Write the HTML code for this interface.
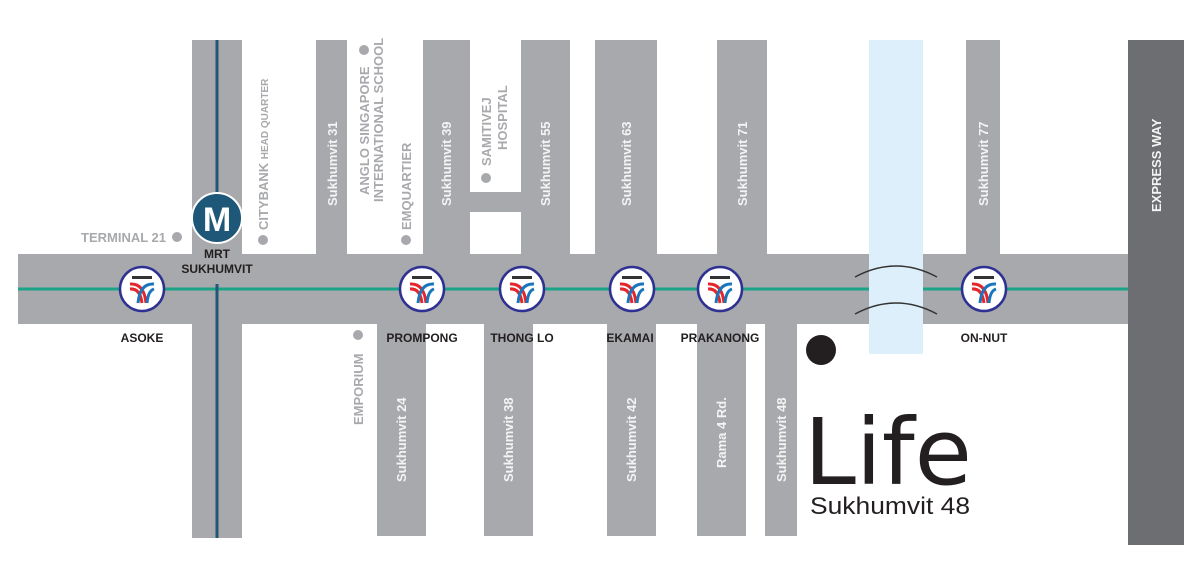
<!DOCTYPE html>
<html><head><meta charset="utf-8"><style>
html,body{margin:0;padding:0;background:#fff}
svg{display:block}
text{font-family:"Liberation Sans",sans-serif}
.rl{fill:#f4f4f4;font-size:13px;font-weight:bold}
.gl{fill:#a7a9ac;font-size:13px;font-weight:bold}
.st{fill:#231f20;font-size:12px;font-weight:bold;text-anchor:middle}
</style></head><body>
<svg width="1200" height="576" viewBox="0 0 1200 576" xmlns="http://www.w3.org/2000/svg">
<defs>
<g id="bts">
<circle r="22" fill="#fff" stroke="#2e3192" stroke-width="2.5"/>
<rect x="-10" y="-13" width="20" height="3" fill="#333"/>
<path d="M-12,-5 Q2,-6 4,14" fill="none" stroke="#e4262b" stroke-width="3"/>
<path d="M-12,0 Q-2,-1 0,14" fill="none" stroke="#e4262b" stroke-width="3"/>
<path d="M12,-5 Q-2,-6 -4,14" fill="none" stroke="#1b75bc" stroke-width="3"/>
<path d="M12,0 Q6,2 5,14" fill="none" stroke="#1b75bc" stroke-width="3"/>
</g>
</defs>
<g fill="#a7a9ac">
<rect x="18" y="254" width="1112" height="70"/>
<rect x="192" y="40" width="50" height="498"/>
<rect x="316" y="40" width="31" height="214"/>
<rect x="423" y="40" width="47" height="214"/>
<rect x="470" y="192" width="51" height="20"/>
<rect x="521" y="40" width="49" height="214"/>
<rect x="595" y="40" width="62" height="214"/>
<rect x="717" y="40" width="50" height="214"/>
<rect x="966" y="40" width="34" height="214"/>
<rect x="377" y="324" width="49" height="212"/>
<rect x="484" y="324" width="49" height="212"/>
<rect x="607" y="324" width="49" height="212"/>
<rect x="697" y="324" width="49" height="212"/>
<rect x="765" y="324" width="32" height="212"/>
</g>
<rect x="869" y="40" width="54" height="314" fill="#dceffb"/>
<rect x="1128" y="40" width="56" height="505" fill="#6d6e71"/>
<line x1="18" y1="289" x2="869" y2="289" stroke="#1aa386" stroke-width="3"/>
<line x1="923" y1="289" x2="1128" y2="289" stroke="#1aa386" stroke-width="3"/>
<path d="M855,277 Q896,255 937,277" fill="none" stroke="#333" stroke-width="1.5"/>
<path d="M855,314 Q896,292 937,314" fill="none" stroke="#333" stroke-width="1.5"/>
<line x1="217" y1="40" x2="217" y2="200" stroke="#1f5778" stroke-width="3"/>
<line x1="217" y1="284" x2="217" y2="538" stroke="#1f5778" stroke-width="3"/>
<circle cx="217" cy="218" r="25" fill="#1f5778" stroke="#fff" stroke-width="2"/>
<text x="217" y="231" fill="#fff" font-size="34" font-weight="bold" text-anchor="middle">M</text>
<text x="217" y="258" class="st" font-size="11">MRT</text>
<text x="217" y="273" class="st" font-size="11">SUKHUMVIT</text>
<use href="#bts" x="142" y="289"/>
<use href="#bts" x="422" y="289"/>
<use href="#bts" x="522" y="289"/>
<use href="#bts" x="632" y="289"/>
<use href="#bts" x="720" y="289"/>
<use href="#bts" x="984" y="289"/>
<text x="142" y="342" class="st">ASOKE</text>
<text x="422" y="342" class="st">PROMPONG</text>
<text x="522" y="342" class="st">THONG LO</text>
<text x="630" y="342" class="st">EKAMAI</text>
<text x="720" y="342" class="st">PRAKANONG</text>
<text x="984" y="342" class="st">ON-NUT</text>
<g fill="#a7a9ac">
<circle cx="177" cy="237" r="5"/><circle cx="263" cy="240" r="5"/>
<circle cx="406" cy="240" r="5"/><circle cx="364" cy="50" r="5"/>
<circle cx="486" cy="178" r="5"/><circle cx="358" cy="335" r="5"/>
</g>
<text x="166" y="242" class="gl" text-anchor="end">TERMINAL 21</text>
<text transform="translate(268,230) rotate(-90)" class="gl">CITYBANK <tspan font-size="10">HEAD QUARTER</tspan></text>
<text transform="translate(369,195) rotate(-90)" class="gl" font-size="12">ANGLO SINGAPORE</text>
<text transform="translate(383,202) rotate(-90)" class="gl" font-size="9">INTERNATIONAL SCHOOL</text>
<text transform="translate(411,230) rotate(-90)" class="gl">EMQUARTIER</text>
<text transform="translate(491,166) rotate(-90)" class="gl" font-size="12">SAMITIVEJ</text>
<text transform="translate(507,150) rotate(-90)" class="gl" font-size="12">HOSPITAL</text>
<text transform="translate(363,425) rotate(-90)" class="gl">EMPORIUM</text>
<g class="rl">
<text transform="translate(337,206) rotate(-90)">Sukhumvit 31</text>
<text transform="translate(451,206) rotate(-90)">Sukhumvit 39</text>
<text transform="translate(550,206) rotate(-90)">Sukhumvit 55</text>
<text transform="translate(631,206) rotate(-90)">Sukhumvit 63</text>
<text transform="translate(747,206) rotate(-90)">Sukhumvit 71</text>
<text transform="translate(988,206) rotate(-90)">Sukhumvit 77</text>
<text transform="translate(1161,212) rotate(-90)">EXPRESS WAY</text>
<text transform="translate(406,482) rotate(-90)">Sukhumvit 24</text>
<text transform="translate(513,482) rotate(-90)">Sukhumvit 38</text>
<text transform="translate(636,482) rotate(-90)">Sukhumvit 42</text>
<text transform="translate(726,468) rotate(-90)">Rama 4 Rd.</text>
<text transform="translate(786,482) rotate(-90)">Sukhumvit 48</text>
</g>
<circle cx="821" cy="350" r="15" fill="#231f20"/>
<text x="804" y="484" font-size="92" fill="#231f20" style="font-family:'DejaVu Sans',sans-serif" textLength="168" lengthAdjust="spacingAndGlyphs">Life</text>
<text x="810" y="514" font-size="24" fill="#231f20" textLength="160" lengthAdjust="spacingAndGlyphs">Sukhumvit 48</text>
</svg>
</body></html>
